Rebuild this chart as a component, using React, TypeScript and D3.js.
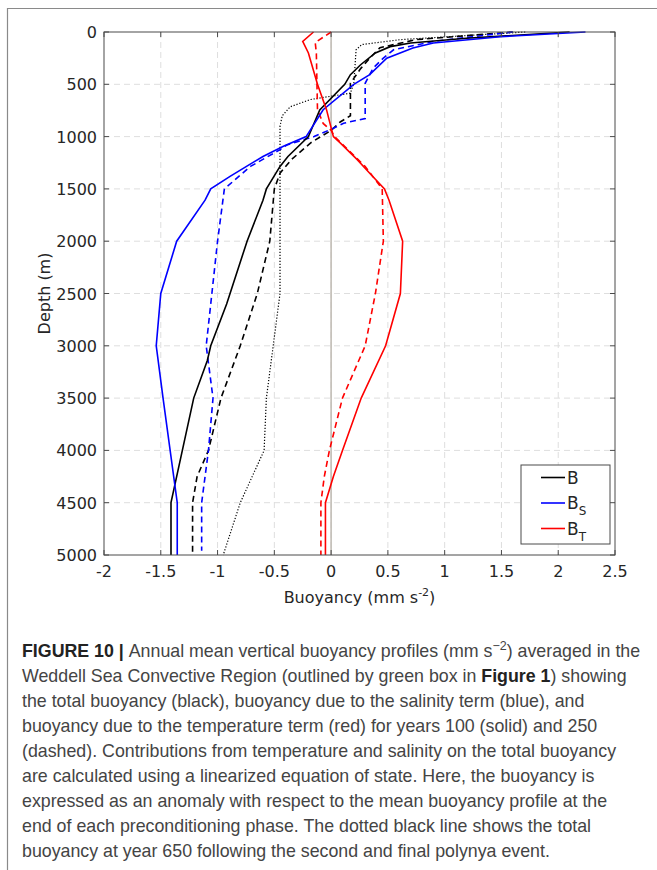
import React from "react";
import * as d3 from "d3";

// depth ticks (m) and buoyancy ticks (mm s^-2)
const depthTicks = [0, 500, 1000, 1500, 2000, 2500, 3000, 3500, 4000, 4500, 5000];
const buoyTicks = [-2, -1.5, -1, -0.5, 0, 0.5, 1, 1.5, 2, 2.5];

// B, year 100 (solid black)
const bY100Depth = [0, 60, 105, 140, 200, 313, 408, 500, 745, 1000, 1190, 1285, 1500, 1608, 2000, 2600, 3000, 3140, 3500, 4500, 5000];
const bY100 = [2.1, 1.19, 0.7, 0.52, 0.39, 0.26, 0.17, 0.12, -0.1, -0.2, -0.38, -0.45, -0.57, -0.6, -0.74, -0.92, -1.06, -1.09, -1.21, -1.41, -1.41];

// B, year 250 (dashed black)
const bY250Depth = [0, 73, 150, 250, 350, 490, 800, 860, 940, 1060, 1220, 1350, 1500, 2000, 2500, 3000, 3500, 4000, 4250, 4500, 5000];
const bY250 = [1.6, 0.75, 0.43, 0.34, 0.26, 0.17, 0.17, 0.08, 0.0, -0.18, -0.35, -0.45, -0.5, -0.54, -0.65, -0.8, -0.97, -1.08, -1.18, -1.22, -1.22];

// B, year 650 (dotted black)
const bY650Depth = [0, 73, 120, 170, 490, 585, 645, 715, 800, 900, 2500, 3000, 3500, 4000, 4500, 5000];
const bY650 = [1.71, 0.61, 0.27, 0.22, 0.2, 0.17, -0.18, -0.36, -0.43, -0.45, -0.45, -0.51, -0.57, -0.59, -0.8, -0.95];

// B_S, year 100 (solid blue)
const bsY100Depth = [0, 45, 105, 153, 250, 408, 500, 743, 1000, 1093, 1190, 1380, 1500, 1608, 2000, 2500, 3000, 3500, 4500, 5000];
const bsY100 = [2.24, 1.49, 0.9, 0.72, 0.49, 0.34, 0.2, -0.07, -0.22, -0.42, -0.6, -0.89, -1.06, -1.11, -1.36, -1.5, -1.54, -1.48, -1.355, -1.355];

// B_S, year 250 (dashed blue)
const bsY250Depth = [0, 90, 170, 250, 345, 490, 827, 872, 920, 1000, 1080, 1125, 1285, 1500, 2000, 2500, 3000, 3500, 4000, 4500, 4960];
const bsY250 = [1.6, 0.9, 0.55, 0.46, 0.37, 0.3, 0.3, 0.11, 0.02, -0.15, -0.39, -0.45, -0.71, -0.94, -1.0, -1.05, -1.1, -1.04, -1.08, -1.14, -1.14];

// B_T, year 100 (solid red)
const btY100Depth = [0, 90, 200, 500, 745, 1000, 1060, 1220, 1350, 1500, 1608, 2000, 2500, 3000, 3500, 4000, 4250, 4500, 5000];
const btY100 = [-0.155, -0.25, -0.2, -0.12, -0.04, 0.02, 0.08, 0.23, 0.34, 0.47, 0.51, 0.63, 0.61, 0.48, 0.265, 0.1, 0.02, -0.05, -0.05];

// B_T, year 250 (dashed red)
const btY250Depth = [0, 100, 200, 743, 874, 940, 1000, 1285, 1500, 2000, 2500, 3000, 3500, 4000, 4250, 4500, 5000];
const btY250 = [0.0, -0.14, -0.13, -0.12, -0.07, 0.0, 0.03, 0.3, 0.45, 0.46, 0.39, 0.3, 0.1, -0.015, -0.06, -0.09, -0.09];

const legendLabels = ["B", "B", "B"];
const legendSubs = ["", "S", "T"];
const legendColors = ["#000000", "#0000ff", "#ff0000"];

const captionLines = [
  "Annual mean vertical buoyancy profiles (mm s",
  "Weddell Sea Convective Region (outlined by green box in ",
  "the total buoyancy (black), buoyancy due to the salinity term (blue), and",
  "buoyancy due to the temperature term (red) for years 100 (solid) and 250",
  "(dashed). Contributions from temperature and salinity on the total buoyancy",
  "are calculated using a linearized equation of state. Here, the buoyancy is",
  "expressed as an anomaly with respect to the mean buoyancy profile at the",
  "end of each preconditioning phase. The dotted black line shows the total",
  "buoyancy at year 650 following the second and final polynya event.",
];

const W = 657;
const H = 870;
const margin = { left: 104, right: 615, top: 32, bottom: 555 };

export default function App() {
  const x = d3.scaleLinear().domain([-2, 2.5]).range([margin.left, margin.right]);
  const y = d3.scaleLinear().domain([0, 5000]).range([margin.top, margin.bottom]);

  const mk = (depths: number[], vals: number[]) =>
    d3.line<number>()
      .x((_, i) => x(vals[i]))
      .y((d) => y(d))(depths) as string;

  const series = [
    { d: mk(bY650Depth, bY650), color: "#000", dash: "1.2,1.8", w: 1.2 },
    { d: mk(bY250Depth, bY250), color: "#000", dash: "6,4", w: 1.6 },
    { d: mk(bsY250Depth, bsY250), color: "#0000ff", dash: "6,4", w: 1.6 },
    { d: mk(btY250Depth, btY250), color: "#ff0000", dash: "6,4", w: 1.6 },
    { d: mk(bY100Depth, bY100), color: "#000", dash: "", w: 1.6 },
    { d: mk(bsY100Depth, bsY100), color: "#0000ff", dash: "", w: 1.6 },
    { d: mk(btY100Depth, btY100), color: "#ff0000", dash: "", w: 1.6 },
  ];

  const axisColor = "#4a4a4a";
  const tickFont = "DejaVu Sans, sans-serif";
  const capFont = "Liberation Sans, Arial, sans-serif";

  return (
    <svg width={W} height={H} style={{ position: "absolute", left: 0, top: 0, background: "#fff" }}>
      {/* page frame */}
      <line x1={7.5} x2={7.5} y1={8} y2={H} stroke="#8a8a8a" strokeWidth={1.2} />
      <line x1={7} x2={W} y1={8.5} y2={8.5} stroke="#8a8a8a" strokeWidth={1.2} />

      {/* grid */}
      <g>
        {buoyTicks.slice(1, -1).map((t) => (
          <line key={"gx" + t} x1={x(t)} x2={x(t)} y1={margin.top} y2={margin.bottom}
            stroke="#dedede" strokeDasharray="6,4" strokeWidth={1} />
        ))}
        {depthTicks.slice(1, -1).map((t) => (
          <line key={"gy" + t} x1={margin.left} x2={margin.right} y1={y(t)} y2={y(t)}
            stroke="#dedede" strokeDasharray="6,4" strokeWidth={1} />
        ))}
      </g>

      {/* zero line */}
      <line x1={x(0)} x2={x(0)} y1={margin.top} y2={margin.bottom} stroke="#c2bdb6" strokeWidth={1.6} />

      {/* profiles */}
      <g fill="none">
        {series.map((s, i) => (
          <path key={i} d={s.d} stroke={s.color} strokeWidth={s.w} strokeDasharray={s.dash || undefined} />
        ))}
      </g>

      {/* box and ticks */}
      <rect x={margin.left} y={margin.top} width={margin.right - margin.left} height={margin.bottom - margin.top}
        fill="none" stroke={axisColor} strokeWidth={1} />
      {buoyTicks.map((t) => (
        <g key={"tx" + t}>
          <line x1={x(t)} x2={x(t)} y1={margin.bottom} y2={margin.bottom - 5} stroke={axisColor} />
          <line x1={x(t)} x2={x(t)} y1={margin.top} y2={margin.top + 5} stroke={axisColor} />
          <text x={x(t)} y={577} textAnchor="middle" fontFamily={tickFont} fontSize={16} fill="#262626">{t}</text>
        </g>
      ))}
      {depthTicks.map((t) => (
        <g key={"ty" + t}>
          <line x1={margin.left} x2={margin.left + 5} y1={y(t)} y2={y(t)} stroke={axisColor} />
          <line x1={margin.right} x2={margin.right - 5} y1={y(t)} y2={y(t)} stroke={axisColor} />
          <text x={97} y={y(t) + 6} textAnchor="end" fontFamily={tickFont} fontSize={16} fill="#262626">{t}</text>
        </g>
      ))}

      {/* axis labels */}
      <text x={(margin.left + margin.right) / 2} y={603} textAnchor="middle" fontFamily={tickFont} fontSize={16} fill="#262626">
        Buoyancy (mm s<tspan dy={-7} fontSize={11}>-2</tspan><tspan dy={7}>)</tspan>
      </text>
      <text transform={`translate(50,${(margin.top + margin.bottom) / 2}) rotate(-90)`} textAnchor="middle"
        fontFamily={tickFont} fontSize={16} fill="#262626">Depth (m)</text>

      {/* legend */}
      <g>
        <rect x={521} y={465} width={89} height={79} fill="#fff" stroke={axisColor} strokeWidth={1} />
        {legendLabels.map((l, i) => {
          const ly = 477.5 + i * 25.5;
          return (
            <g key={"lg" + i}>
              <line x1={541} x2={565} y1={ly} y2={ly} stroke={legendColors[i]} strokeWidth={1.6} />
              <text x={567} y={ly + 6} fontFamily={tickFont} fontSize={17} fill="#262626">
                {l}
                {legendSubs[i] && <tspan dy={6} fontSize={12}>{legendSubs[i]}</tspan>}
              </text>
            </g>
          );
        })}
      </g>

      {/* caption */}
      <g fontFamily={capFont} fontSize={17.8} fill="#444">
        {captionLines.map((line, i) => {
          const by = 657 + i * 25;
          if (i === 0) {
            return (
              <text key={i} x={22} y={by}>
                <tspan fontWeight="bold" fill="#222">FIGURE 10 | </tspan>
                {line}
                <tspan dy={-7} fontSize={12.5}>−2</tspan>
                <tspan dy={7}>) averaged in the</tspan>
              </text>
            );
          }
          if (i === 1) {
            return (
              <text key={i} x={22} y={by}>
                {line}
                <tspan fontWeight="bold" fill="#222">Figure 1</tspan>
                ) showing
              </text>
            );
          }
          return (
            <text key={i} x={22} y={by}>{line}</text>
          );
        })}
      </g>
    </svg>
  );
}
